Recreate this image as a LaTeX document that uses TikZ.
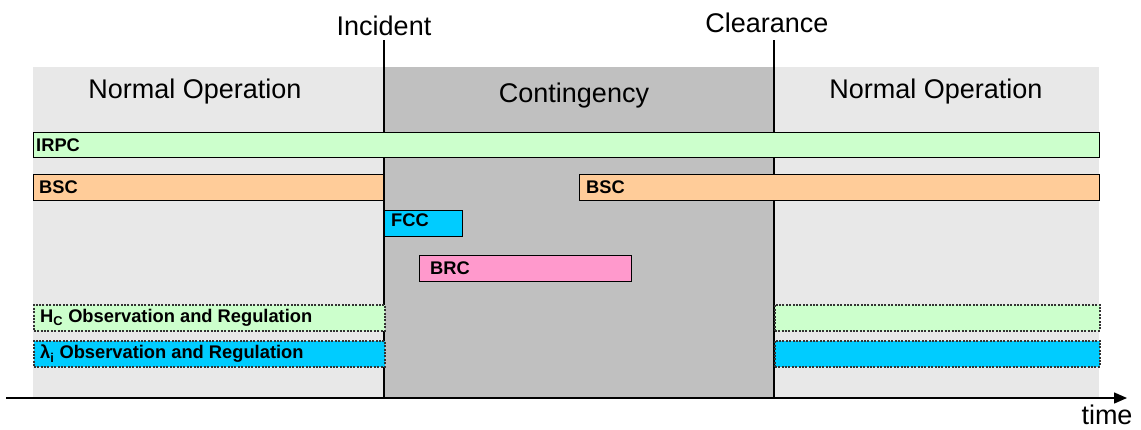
\documentclass[tikz,border=0pt]{standalone}
\usepackage{fontspec}
\setmainfont{Liberation Sans}
\usetikzlibrary{arrows.meta}
\definecolor{irpcgreen}{RGB}{204,255,204}
\definecolor{bscorange}{RGB}{255,204,153}
\definecolor{fcccyan}{RGB}{0,204,255}
\definecolor{brcpink}{RGB}{255,153,204}
\definecolor{normalgray}{RGB}{232,232,232}
\definecolor{contgray}{RGB}{192,192,192}

\tikzset{
  bar/.style={draw=black, line width=1.3pt, minimum height=26pt, inner sep=0pt, anchor=north west},
  obsbar/.style={bar, draw=black!80, dash pattern=on 2pt off 1.4pt, line width=1.5pt},
  barlabel/.style={anchor=west, inner sep=0pt, font=\fontsize{18.3}{20}\selectfont\bfseries},
  phaselabel/.style={anchor=base, inner sep=0pt, font=\fontsize{27}{30}\selectfont},
}

\begin{document}
\begin{tikzpicture}[x=1pt, y=-1pt]
\useasboundingbox (0,0) rectangle (1141,429);
% Phases in the background
\fill[normalgray] (33,67) rectangle (1099,398);
\fill[contgray] (384,67) rectangle (774,398);
\node[phaselabel] (normal1) at (195,98) {Normal Operation};
\node[phaselabel] (cont) at (574,102) {Contingency};
\node[phaselabel] (normal2) at (936,98) {Normal Operation};

% Events
\coordinate (inctop) at (384,40);
\coordinate (incbot) at (384,398);
\coordinate (cleartop) at (774,40);
\coordinate (clearbot) at (774,398);
\node[phaselabel] (incident) at (384,35) {Incident};
\node[phaselabel] (clearance) at (767,32) {Clearance};
\draw[line width=1.5pt] (inctop) -- (incbot);
\draw[line width=1.2pt] (cleartop) -- (clearbot);

% Controllers
\node[bar, fill=irpcgreen, minimum width=1066pt, minimum height=25pt] (irpc) at (33,132) {};
\node[barlabel] (irpclbl) at ([xshift=3pt]irpc.west) {IRPC};

\node[bar, fill=bscorange, minimum width=350pt] (bscA) at (33,174) {};
\node[barlabel] (bscAlbl) at ([xshift=6pt]bscA.west) {BSC};
\node[bar, fill=bscorange, minimum width=520pt] (bscB) at (579,174) {};
\node[barlabel] (bscBlbl) at ([xshift=7pt]bscB.west) {BSC};

\node[bar, fill=fcccyan, minimum width=78pt] (fcc) at (384,210) {};
\node[barlabel] (fcclbl) at ([xshift=7pt, yshift=3pt]fcc.west) {FCC};

\node[bar, fill=brcpink, minimum width=212pt] (brc) at (419,255) {};
\node[barlabel] (brclbl) at ([xshift=11pt]brc.west) {BRC};

% Observation and regulation
\node[obsbar, fill=irpcgreen, minimum width=351pt] (hcA) at (33,304) {};
\node[barlabel] (hcAlbl) at ([xshift=7pt]hcA.west) {H\textsubscript{C} Observation and Regulation};
\node[obsbar, fill=irpcgreen, minimum width=325pt] (hcB) at (774,304) {};

\node[obsbar, fill=fcccyan, minimum width=351pt] (lamA) at (33,340) {};
\node[barlabel] (lamAlbl) at ([xshift=7pt]lamA.west) {λ\textsubscript{i} Observation and Regulation};
\node[obsbar, fill=fcccyan, minimum width=325pt] (lamB) at (774,340) {};

% Time axis
\coordinate (tstart) at (6,398);
\coordinate (tend) at (1127,398);
\draw[line width=1.5pt, -{Triangle[length=13pt, width=11pt]}] (tstart) -- (tend);
\node[phaselabel] (time) at (1107,424) {time};
\end{tikzpicture}
\end{document}
